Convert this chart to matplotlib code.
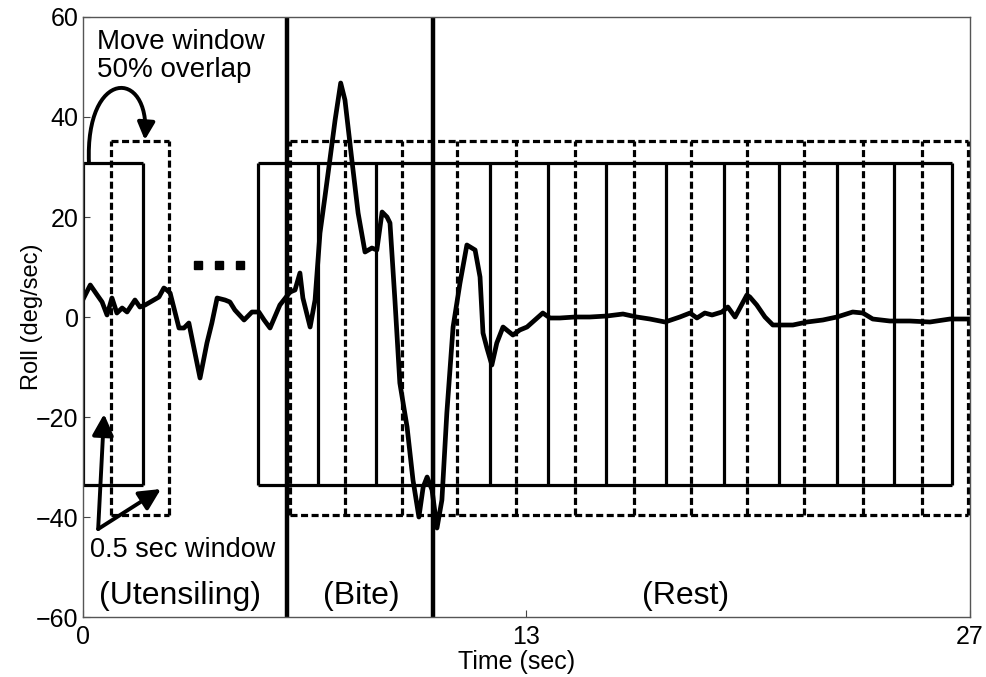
import numpy as np
import matplotlib
matplotlib.use('Agg')
import matplotlib.pyplot as plt
from matplotlib.patches import FancyArrowPatch
from matplotlib.path import Path

plt.rcParams['font.family'] = ['Liberation Sans', 'DejaVu Sans']

# --------------------------------------------------------------------------- #
# Data
# --------------------------------------------------------------------------- #
time_s = [0.00, 0.23, 0.44, 0.59, 0.74, 0.89, 1.04, 1.20, 1.35, 1.59, 1.74, 1.90,
          2.32, 2.47, 2.56, 2.66, 2.93, 3.08, 3.23, 3.57, 3.78, 3.93, 4.09, 4.33,
          4.48, 4.63, 4.91, 5.15, 5.36, 5.52, 5.70, 6.00, 6.31, 6.46, 6.61, 6.70,
          6.92, 7.07, 7.22, 7.37, 7.52, 7.68, 7.85, 7.98, 8.19, 8.38, 8.59, 8.80,
          8.95, 9.11, 9.26, 9.35, 9.50, 9.65, 9.87, 10.05, 10.23, 10.36, 10.48,
          10.63, 10.78, 10.93, 11.08, 11.27, 11.48, 11.69, 11.94, 12.09, 12.18,
          12.30, 12.45, 12.60, 12.79, 13.09, 13.30, 13.52, 13.76, 14.00, 14.22,
          14.52, 14.98, 15.43, 15.95, 16.44, 16.86, 17.26, 17.72, 18.17, 18.48,
          18.69, 18.93, 19.15, 19.45, 19.63, 19.85, 20.21, 20.30, 20.51, 20.76,
          21.00, 21.30, 21.61, 22.04, 22.52, 22.95, 23.43, 23.74, 24.04, 24.56,
          25.17, 25.78, 26.39, 26.99]
roll = [3.4, 6.4, 4.4, 3.0, 0.4, 3.8, 0.8, 1.8, 1.0, 3.4, 2.0, 2.4,
        4.0, 5.8, 5.4, 4.8, -2.2, -2.2, -1.2, -12.2, -5.2, -1.2, 3.8, 3.4,
        3.0, 1.4, -0.6, 1.0, 1.0, -0.6, -2.2, 2.4, 5.0, 5.4, 8.8, 3.8,
        -2.0, 3.4, 16.8, 24.0, 31.4, 39.4, 46.8, 43.4, 31.4, 20.8, 13.0, 13.8,
        13.4, 21.0, 20.0, 18.8, 3.4, -13.2, -22.0, -32.6, -40.0, -34.0, -32.0,
        -34.6, -42.2, -36.6, -19.2, -2.0, 6.8, 14.4, 13.4, 8.0, -3.2,
        -6.2, -9.6, -5.2, -2.0, -3.6, -2.6, -2.0, -0.6, 0.8, -0.2,
        -0.2, 0.0, 0.0, 0.2, 0.6, 0.0, -0.4, -1.0, 0.0, 0.8,
        -0.2, 0.8, 0.4, 1.0, 2.0, 0.0, 4.4, 4.0, 2.4, 0.0,
        -1.6, -1.6, -1.6, -1.0, -0.6, 0.0, 1.0, 0.8, -0.4, -0.8,
        -0.8, -1.0, -0.4, -0.4]

# window edges (sec) for the first pair and the continuous run
first_solid = [0.01, 1.83]
first_dashed = [0.86, 2.63]
solid_edges = [5.33, 7.16, 8.92, 10.66, 12.39, 14.16, 15.92, 17.74, 19.51,
               21.18, 22.95, 24.69, 26.45]
dashed_edges = [6.31, 7.98, 9.71, 11.39, 13.18, 14.98, 16.78, 18.51, 20.21,
                21.95, 23.74, 25.53, 26.95]
solid_ylim = [-33.5, 30.8]
dashed_ylim = [-39.5, 35.1]

phase_bounds = [6.23, 10.65]
phase_names = ['(Utensiling)', '(Bite)', '(Rest)']
phase_centers = [2.97, 8.47, 18.33]

dots_x = [3.51, 4.15, 4.79]
dots_y = [10.4, 10.4, 10.4]

xticks = [0, 13.5, 27]
xticklabels = ['0', '13', '27']
yticks = [-60, -40, -20, 0, 20, 40, 60]
yticklabels = ['\u221260', '\u221240', '\u221220', '0', '20', '40', '60']


def add_windows(ax, edges, ylim, **kw):
  # vertical edges plus one top and one bottom line for the run of windows
  ax.vlines(edges, ylim[0], ylim[1], **kw)
  ax.hlines(ylim, edges[0], edges[-1], **kw)


# --------------------------------------------------------------------------- #
# Main
# --------------------------------------------------------------------------- #
def main():
  fig = plt.figure(figsize=(9.87, 6.77), dpi=100)
  ax = fig.add_axes([0.0838, 0.0886, 0.899, 0.8863])

  solid_kw = dict(colors='k', linewidth=2.3, linestyles='solid')
  dash_kw = dict(colors='k', linewidth=2.3, linestyles=(0, (2.2, 1.1)))

  add_windows(ax, first_solid, solid_ylim, **solid_kw)
  add_windows(ax, first_dashed, dashed_ylim, **dash_kw)
  add_windows(ax, solid_edges, solid_ylim, **solid_kw)
  add_windows(ax, dashed_edges, dashed_ylim, **dash_kw)

  for xb in phase_bounds:
    ax.axvline(xb, color='k', linewidth=3.2)

  ax.plot(time_s, roll, color='k', linewidth=3.4, solid_joinstyle='round')
  ax.plot(dots_x, dots_y, linestyle='none', marker='s', markersize=5.5, color='k')

  for name, xc in zip(phase_names, phase_centers):
    ax.text(xc, -55.8, name, ha='center', va='center', fontsize=23)

  ax.text(0.44, 57.5, 'Move window\n50% overlap', ha='left', va='top',
          fontsize=20, linespacing=1.1)
  ax.text(3.05, -46.6, '0.5 sec window', ha='center', va='center', fontsize=19.5)

  # curved "move window" arrow
  verts = [(0.19, 30.8), (0.07, 49.8), (2.05, 49.8), (1.89, 35.4)]
  codes = [Path.MOVETO, Path.CURVE4, Path.CURVE4, Path.CURVE4]
  ax.add_patch(FancyArrowPatch(path=Path(verts, codes), arrowstyle='-|>',
                               mutation_scale=26, linewidth=2.8, color='k'))

  # "0.5 sec window" arrows
  for tip in [(0.65, -19.4), (2.38, -34.4)]:
    ax.annotate('', xy=tip, xytext=(0.47, -42.4),
                arrowprops=dict(arrowstyle='-|>', mutation_scale=32,
                                linewidth=2.8, color='k', shrinkA=0, shrinkB=0))

  ax.set_xlim(0, 27)
  ax.set_ylim(-60, 60)
  ax.set_xticks(xticks)
  ax.set_xticklabels(xticklabels)
  ax.set_yticks(yticks)
  ax.set_yticklabels(yticklabels)
  ax.tick_params(direction='in', length=5, width=0.8, color='#444444',
                 labelsize=18)
  ax.tick_params(axis='x', pad=6)
  ax.tick_params(axis='y', pad=3)
  for sp in ax.spines.values():
    sp.set_color('#555555')
    sp.set_linewidth(1.0)

  ax.set_xlabel('Time (sec)', fontsize=18)
  ax.xaxis.set_label_coords(0.489, -0.055)
  ax.set_ylabel('Roll (deg/sec)', fontsize=17)
  ax.yaxis.set_label_coords(-0.045, 0.5)

  fig.savefig('out.png', dpi=100)


# --------------------------------------------------------------------------- #
# Execute
# --------------------------------------------------------------------------- #
if __name__ == '__main__':
  main()
